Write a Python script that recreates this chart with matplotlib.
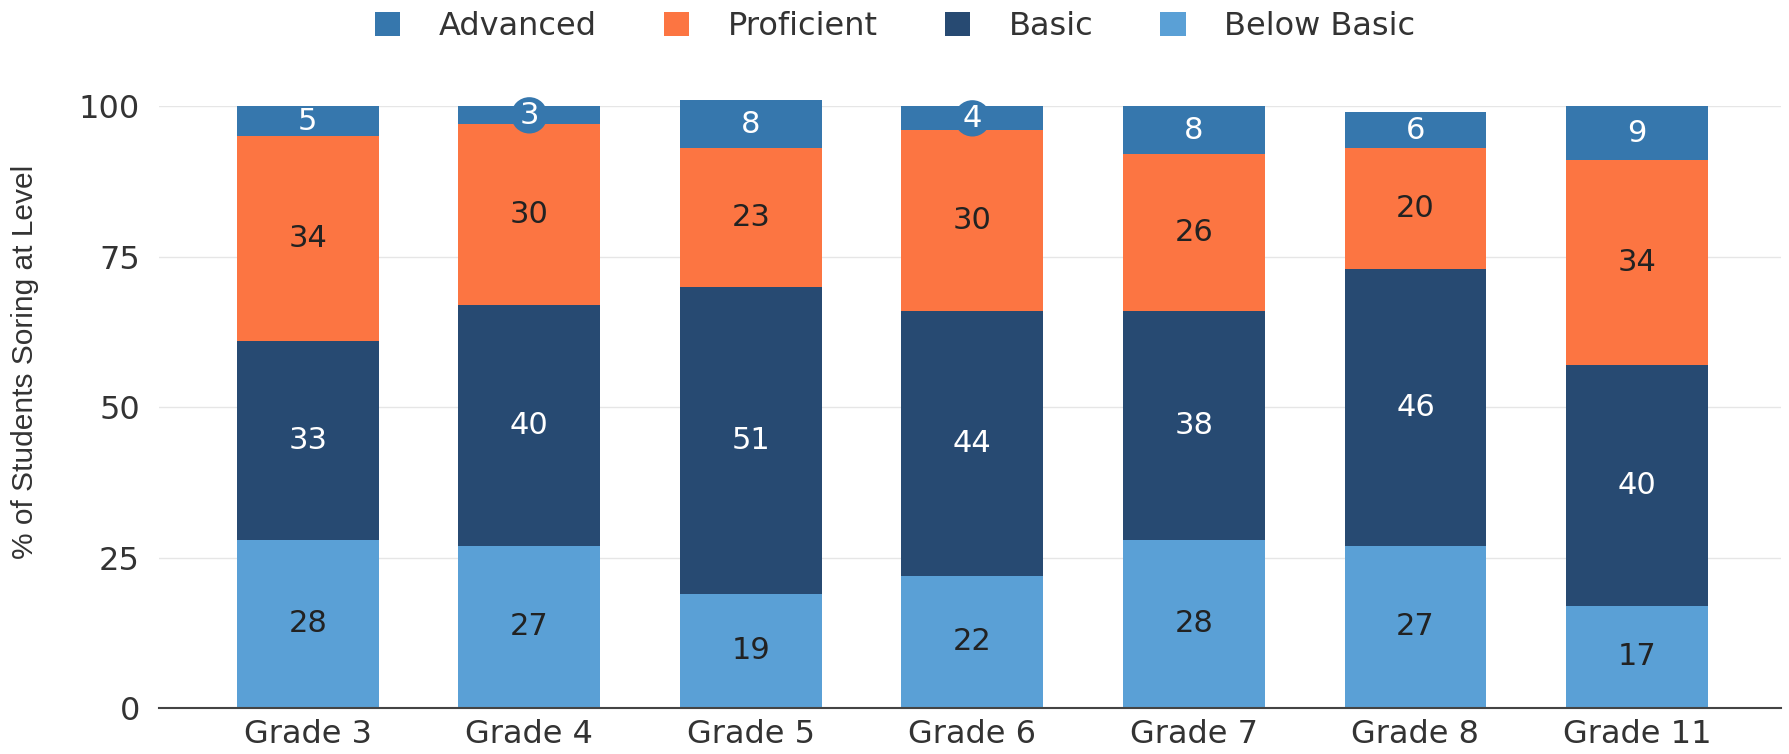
import matplotlib.pyplot as plt
import numpy as np

grades = ['Grade 3', 'Grade 4', 'Grade 5', 'Grade 6', 'Grade 7', 'Grade 8', 'Grade 11']
below_basic = [28, 27, 19, 22, 28, 27, 17]
basic = [33, 40, 51, 44, 38, 46, 40]
proficient = [34, 30, 23, 30, 26, 20, 34]
advanced = [5, 3, 8, 4, 8, 6, 9]

C_ADV = '#3677ad'
C_PROF = '#fc7542'
C_BASIC = '#274a72'
C_BELOW = '#5aa0d6'

plt.rcParams['font.family'] = ['DejaVu Sans']

fig = plt.figure(figsize=(17.9, 7.54), dpi=100)
ax = fig.add_axes([0.089, 0.061, 0.906, 0.798])

x = np.arange(len(grades))
w = 0.64
series = [
    ('Below Basic', below_basic, C_BELOW, '#222222'),
    ('Basic', basic, C_BASIC, 'white'),
    ('Proficient', proficient, C_PROF, '#222222'),
    ('Advanced', advanced, C_ADV, 'white'),
]
bottom = np.zeros(len(grades))
handles = {}
for name, vals, col, tcol in series:
    vals = np.array(vals, dtype=float)
    bars = ax.bar(x, vals, w, bottom=bottom, color=col, clip_on=False, zorder=3)
    handles[name] = bars
    for xi, b, v in zip(x, bottom, vals):
        kw = {}
        if name == 'Advanced' and v < 5:
            kw['bbox'] = dict(boxstyle='circle,pad=0.12', fc=col, ec='none')
        ax.text(xi, b + v / 2, '%d' % v, ha='center', va='center',
                color=tcol, fontsize=22, zorder=4, **kw)
    bottom += vals

ax.set_xlim(-0.67, 6.65)
ax.set_ylim(0, 100)
ax.set_yticks([0, 25, 50, 75, 100])
ax.set_xticks(x)
ax.set_xticklabels(grades)
ax.tick_params(axis='both', length=0, labelsize=23, colors='#333333')
ax.tick_params(axis='y', pad=14)
ax.tick_params(axis='x', pad=8)
ax.grid(axis='y', color='#e6e6e6', linewidth=1, zorder=0)
for s in ['top', 'right', 'left']:
    ax.spines[s].set_visible(False)
ax.spines['bottom'].set_color('#444444')
ax.spines['bottom'].set_linewidth(1.5)
ax.spines['bottom'].set_zorder(5)

ax.set_ylabel('% of Students Soring at Level', fontsize=21.5, family='Liberation Sans',
              color='#333333')
ax.yaxis.set_label_coords(-0.074, 0.575)

order = ['Advanced', 'Proficient', 'Basic', 'Below Basic']
fig.legend([handles[n] for n in order], order, loc='center', bbox_to_anchor=(0.5, 0.965),
           ncol=4, frameon=False, fontsize=23, handlelength=0.8, handleheight=0.8,
           columnspacing=2.1, handletextpad=1.2, labelcolor='#333333')

fig.savefig('out.png', dpi=100)
